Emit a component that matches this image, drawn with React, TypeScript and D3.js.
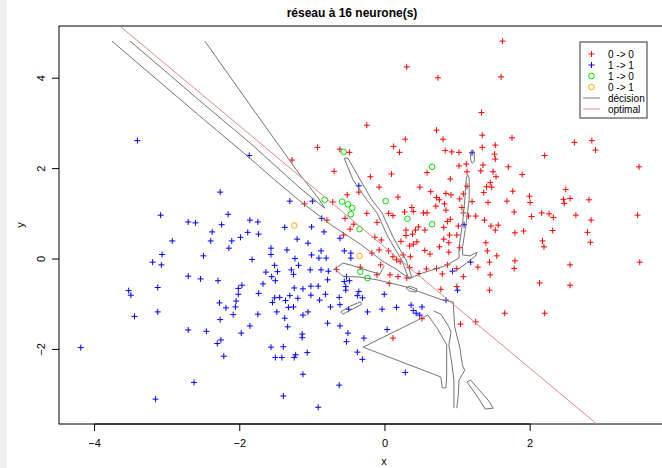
import React from "react";
import * as d3 from "d3";

const WIDTH = 662;
const HEIGHT = 468;

// plot region (pixels) and axis limits (data units)
const frame = { left: 59, top: 26, right: 663, bottom: 424 };
const xLim: [number, number] = [-4.49, 3.83];
const yLim: [number, number] = [-3.65, 5.155];

const xTicks = [-4, -2, 0, 2];
const yTicks = [-2, 0, 2, 4];

const title = "réseau à 16 neurone(s)";
const xLabel = "x";
const yLabel = "y";

type Pt = [number, number];

// class 0 predicted 0
const red00: Pt[] = [
  [1.62, 4.82], [0.3, 4.25], [0.73, 4.01], [1.6, 4.03], [1.33, 3.24], [0.71, 2.85], [0.28, 2.65], [0.8, 2.65], [1.34, 2.74], [1.75, 2.68],
  [0.12, 2.49], [0.2, 2.36], [0.83, 2.4], [0.92, 2.37], [1.02, 2.36], [1.34, 2.47], [1.52, 2.52], [1.51, 2.32], [1.52, 2.21], [1.02, 2.06],
  [1.12, 2.1], [1.7, 2.04], [0.09, 1.88], [0.58, 1.91], [1.13, 1.93], [1.32, 1.95], [1.35, 2.08], [1.53, 1.82], [0.9, 1.77], [0.48, 1.59],
  [0.63, 1.49], [1.13, 1.61], [1.4, 1.6], [1.47, 1.59], [1.45, 1.69], [0.84, 1.45], [0.91, 1.42], [1.08, 1.44], [0.71, 1.36], [0.75, 1.31],
  [0.18, 1.37], [1.03, 1.33], [1.36, 1.47], [1.76, 1.5], [0.82, 1.22], [1.2, 1.27], [1.42, 1.25], [1.68, 1.28], [0.7, 1.17], [0.37, 1.14],
  [0.39, 1.05], [0.27, 1.04], [0.84, 1.08], [0.53, 1.02], [0.58, 1.02], [0.05, 1.01], [0.11, 0.96], [1.08, 1.02], [1.15, 0.95], [1.25, 0.95],
  [1.78, 1.04], [0.9, 0.88], [0.86, 0.83], [1.37, 0.86], [1.56, 0.75],
  [2.61, 2.58], [2.85, 2.62], [2.9, 2.41], [2.2, 2.29], [3.5, 2.04], [1.49, 1.93], [1.89, 1.87], [2.49, 1.54], [1.99, 1.39], [2.0, 1.25],
  [2.46, 1.32], [2.47, 1.23], [2.55, 1.34], [2.81, 1.31], [2.02, 0.94], [2.16, 1.02], [2.26, 1.0], [2.32, 0.92], [2.63, 0.97], [2.84, 0.86],
  [3.48, 0.97], [1.01, 0.73], [0.81, 0.7], [0.42, 0.64], [0.38, 0.55], [0.55, 0.64], [0.89, 0.53], [0.99, 0.53], [0.81, 0.44], [0.88, 0.36],
  [1.46, 0.73], [1.52, 0.64], [1.91, 0.62], [1.79, 0.58], [2.31, 0.63], [2.79, 0.59], [2.83, 0.37], [1.39, 0.36], [2.17, 0.4], [2.19, 0.27],
  [0.34, 0.29], [0.44, 0.38], [0.55, 0.19], [0.62, 0.11], [0.75, 0.27], [0.88, 0.15], [1.03, 0.25], [1.41, 0.18], [1.54, 0.07], [0.35, 0.05],
  [1.44, -0.07], [1.79, -0.04], [1.78, -0.21], [1.28, -0.18], [2.55, -0.13], [3.51, -0.07], [0.57, -0.22], [0.47, -0.32], [0.79, -0.33], [1.45, -0.35],
  [2.13, -0.53], [2.55, -0.58], [0.99, -0.61], [0.77, -0.67], [1.44, -0.69], [1.65, -1.2], [2.2, -1.2], [1.25, -1.39], [1.04, -1.44], [0.51, -1.32],
  [1.06, 1.14],
  [-0.49, 2.36], [-0.7, 1.94], [-0.2, 1.82], [-0.08, 1.59], [-0.52, 1.42], [-0.72, 1.26], [-0.25, 1.01], [-0.43, 0.77], [0.29, 0.64],
  [-0.14, 0.48], [-0.05, 0.42], [-0.08, 0.2], [0.05, 0.18], [0.22, 0.39], [0.29, 0.52], [0.39, 0.33], [-0.67, -0.23], [-0.06, -0.13], [-0.34, -0.18],
  [0.21, -0.06], [0.34, -0.19], [0.71, -0.21], [-0.11, -0.35], [0.06, -0.54], [0.3, -0.42], [0.86, -0.13], [0.99, -0.21], [-0.36, 1.48], [-1.11, 1.22],
  [-0.55, 0.9], [-0.11, 0.81], [0.46, 0.71], [-0.8, 0.86], [-0.48, 0.66], [-0.57, 0.53], [-0.18, 0.13], [0.11, 0.05], [0.16, -0.02], [0.25, 0.09],
  [0.07, -0.35], [0.18, -0.39], [0.11, -1.75], [-0.25, 2.96], [-0.93, 2.47], [-0.62, 2.43], [-1.28, 2.19], [1.08, -0.39],
];

// class 1 predicted 1
const blue11: Pt[] = [
  [-3.41, 2.62], [-1.87, 2.29], [-2.27, 1.48], [-3.09, 0.97], [-2.16, 0.99], [-2.71, 0.82], [-2.61, 0.8], [-1.86, 0.86], [-1.75, 0.82], [-2.25, 0.76],
  [-2.38, 0.6], [-1.89, 0.59], [-1.74, 0.55], [-2.93, 0.4], [-2.4, 0.4], [-2.11, 0.4], [-1.99, 0.48], [-2.15, 0.24], [-3.07, 0.1], [-3.2, -0.07],
  [-3.08, -0.13], [-2.5, 0.07], [-1.83, -0.01], [-2.71, -0.38], [-2.54, -0.44], [-2.3, -0.48], [-1.97, -0.58], [-2.02, -0.65], [-2.02, -0.78], [-1.74, -0.76],
  [-3.53, -0.7], [-3.5, -0.8], [-3.13, -0.63], [-2.28, -0.97], [-2.05, -0.93], [-2.19, -1.08], [-2.06, -1.06], [-2.09, -1.23], [-1.75, -1.22], [-3.45, -1.27],
  [-3.13, -1.17], [-2.27, -1.34], [-1.86, -1.48], [-2.71, -1.57], [-2.46, -1.6], [-1.98, -1.64], [-2.26, -1.79], [-2.31, -1.87], [-2.22, -2.15], [-4.19, -1.96],
  [-2.63, -2.73], [-3.16, -3.1],
  [-1.31, 1.28], [-1.38, 0.7], [-1.01, 0.71], [-0.84, 0.6], [-1.21, 0.44], [-1.06, 0.35], [-0.62, 0.46], [-1.57, 0.24], [-1.35, 0.2], [-1.57, 0.1],
  [-1.24, 0.01], [-1.01, 0.09], [-0.88, 0.18], [-0.91, 0.02], [-0.81, 0.02], [-0.56, 0.18], [-0.47, 0.13], [-0.47, 0.02], [-1.52, -0.14], [-1.64, -0.29],
  [-1.48, -0.28], [-1.29, -0.24], [-1.19, -0.14], [-1.26, -0.34], [-1.03, -0.24], [-0.88, -0.24], [-0.78, -0.27], [-1.56, -0.39], [-1.51, -0.48], [-1.68, -0.55],
  [-0.53, -0.39], [-0.56, -0.5], [-0.49, -0.48], [-0.54, -0.61], [-0.54, -0.69], [-0.79, -0.46], [-1.25, -0.64], [-1.13, -0.66], [-1.02, -0.6], [-0.92, -0.6],
  [-1.52, -0.86], [-1.45, -0.85], [-1.31, -0.81], [-1.55, -0.96], [-1.37, -0.92], [-1.2, -0.87], [-1.02, -0.8], [-0.9, -0.91], [-0.82, -0.78], [-0.63, -0.85],
  [-0.36, -0.72], [-0.38, -0.81], [-0.31, -0.86], [-0.01, -0.78], [-1.49, -1.17], [-1.33, -1.07], [-1.26, -1.06], [-1.13, -1.24], [-1.06, -1.17], [-0.75, -1.06],
  [-0.62, -1.01], [-0.5, -1.11], [-0.24, -1.17], [-0.04, -1.11], [0.16, -1.07], [0.36, -1.02], [0.39, -1.14], [0.43, -1.2], [-1.38, -1.31], [-1.34, -1.5],
  [-0.79, -1.42], [-0.62, -1.48], [-1.14, -1.66], [-1.14, -1.74], [-0.51, -1.64], [-0.53, -1.83], [-0.29, -1.75], [0.03, -1.56], [-1.57, -1.95], [-1.4, -1.94],
  [-1.07, -2.07], [-1.23, -2.12], [-1.25, -2.18], [-1.51, -2.18], [-1.42, -2.18], [-0.38, -2.06], [-0.31, -2.22], [-1.13, -2.55], [0.28, -2.51], [-0.63, -2.79],
  [-1.4, -3.03], [-0.92, -3.28], [-0.36, 1.62], [-1.0, 1.28], [-0.87, 0.9], [1.2, 2.35], [1.09, 0.76], [1.18, -0.07], [0.93, -0.27], [1.0, -0.69],
  [0.84, -0.91], [0.51, -1.06], [0.48, -1.24],
];

// class 1 predicted 0
const green10: Pt[] = [
  [-0.57, 2.37], [0.65, 2.04], [-0.83, 1.31], [-0.59, 1.27], [-0.51, 1.21], [-0.45, 1.13], [-0.47, 0.99],
  [0.01, 1.28], [0.31, 0.89], [0.65, 0.77], [-0.35, 0.66], [-0.34, -0.28], [-0.24, -0.42],
];

// class 0 predicted 1
const orange01: Pt[] = [[-1.25, 0.74], [-0.35, 0.07]];

// Bayes boundary y = a + b x
const optIntercept = 0.26;
const optSlope = -1.34;

// level curves of the network output (0.5 contour)
const decisionOpen: Pt[][] = [
  [
    [-3.76, 4.82], [-2.55, 3.16], [-1.86, 2.23], [-1.52, 1.75], [-1.17, 1.28], [-0.72, 0.73], [-0.34, 0.33], [-0.04, -0.04],
    [0.17, -0.24], [0.34, -0.44], [0.41, -0.38], [0.52, -0.31], [0.83, -0.15], [1.02, 0.02], [1.02, 0.27], [1.07, 0.8],
    [1.1, 1.31], [1.12, 1.79], [1.14, 1.86], [1.16, 1.79], [1.16, 1.31], [1.12, 0.8], [1.07, 0.27], [1.07, 0.09],
    [1.17, 0.07], [1.27, 0.15], [1.25, 0.07], [1.14, -0.07], [1.03, -0.2], [0.92, -0.29],
  ],
  [
    [-3.51, 4.82], [-2.55, 3.5], [-1.86, 2.57], [-1.17, 1.57], [-0.85, 1.15], [-0.83, 1.13], [-0.92, 1.35], [-1.17, 1.86],
    [-1.86, 3.41], [-2.48, 4.82],
  ],
  [
    [-0.01, -0.15], [-0.07, -0.33], [-0.21, -0.27], [-0.34, -0.2], [-0.48, -0.13], [-0.58, -0.09], [-0.69, -0.22], [-0.58, -0.38],
    [-0.34, -0.4], [-0.11, -0.46], [0.07, -0.53], [0.3, -0.62], [0.48, -0.73], [0.8, -0.91], [0.94, -0.95], [0.96, -1.5],
    [1.03, -1.95], [1.07, -2.37], [1.1, -2.46], [1.07, -2.54], [1.02, -2.68], [1.01, -3.01], [0.99, -3.3],
  ],
  [
    [0.67, -1.15], [0.77, -1.22], [0.88, -1.5], [0.91, -1.62], [0.88, -1.9], [0.92, -2.3], [0.95, -2.68], [0.95, -3.3],
  ],
];

const decisionClosed: Pt[][] = [
  [
    [-0.56, 2.23], [-0.44, 1.75], [-0.25, 1.31], [-0.11, 1.02], [0.04, 0.49], [0.23, -0.02], [0.32, -0.4],
    [0.37, -0.4], [0.29, -0.02], [0.11, 0.49], [-0.04, 1.02], [-0.18, 1.31], [-0.34, 1.75], [-0.51, 2.23],
  ],
  [[-0.3, -1.95], [0.59, -1.24], [0.72, -1.53], [0.85, -1.9], [0.85, -2.61], [0.84, -2.85], [0.79, -2.85], [0.77, -2.61]],
  [[1.13, -2.72], [1.25, -2.99], [1.34, -3.21], [1.38, -3.32], [1.49, -3.3], [1.43, -3.14], [1.31, -2.92], [1.18, -2.68]],
  [[0.29, -0.64], [0.34, -0.6], [0.44, -0.66], [0.43, -0.73], [0.34, -0.71]],
  [[-0.61, -1.17], [-0.48, -1.04], [-0.34, -0.95], [-0.32, -1.0], [-0.45, -1.11], [-0.58, -1.22]],
  [[1.18, 2.37], [1.21, 2.41], [1.23, 2.35], [1.23, 2.15], [1.2, 2.12], [1.18, 2.19]],
];

const legendLabels = ["0 -> 0", "1 -> 1", "1 -> 0", "0 -> 1", "décision", "optimal"];
const legendKinds = ["cross", "cross", "circle", "circle", "line", "line"];
const legendColors = ["#ff0000", "#0000ff", "#00dd00", "#ffa500", "#777777", "#d98b8b"];

const FONT = "'Liberation Sans', Arial, Helvetica, sans-serif";
const CROSS = 3;
const RADIUS = 2.8;
const DECISION_COLOR = "#747474";

function crossPath(pts: Pt[], sx: (v: number) => number, sy: (v: number) => number) {
  return pts
    .map(([a, b]) => {
      const cx = sx(a);
      const cy = sy(b);
      return `M${cx - CROSS},${cy}H${cx + CROSS}M${cx},${cy - CROSS}V${cy + CROSS}`;
    })
    .join("");
}

export default function App() {
  const x = d3.scaleLinear().domain(xLim).range([frame.left, frame.right]);
  const y = d3.scaleLinear().domain(yLim).range([frame.bottom, frame.top]);
  const line = d3.line<Pt>().x((d) => x(d[0])).y((d) => y(d[1]));
  const fmt = (v: number) => (v < 0 ? "\u2212" + Math.abs(v) : String(v));

  const optPts: Pt[] = [
    [xLim[0], optIntercept + optSlope * xLim[0]],
    [xLim[1], optIntercept + optSlope * xLim[1]],
  ];

  const legend = { x0: 580, y0: 42, w: 67, h: 76, row: 11, sym: 591.5, txt: 608 };

  return (
    <svg
      width={WIDTH}
      height={HEIGHT}
      style={{ position: "absolute", left: 0, top: 0, display: "block", background: "#ffffff" }}
      fontFamily={FONT}
    >
      <defs>
        <clipPath id="plotClip">
          <rect x={frame.left} y={frame.top} width={frame.right - frame.left} height={frame.bottom - frame.top} />
        </clipPath>
      </defs>
      <rect x={0} y={0} width={WIDTH} height={HEIGHT} fill="#efefef" />
      <rect x={7} y={0} width={WIDTH - 7} height={HEIGHT} fill="#ffffff" />

      <text x={352} y={17} textAnchor="middle" fontSize={12} fontWeight="bold" fill="#000">
        {title}
      </text>

      {/* axes */}
      <g stroke="#000" strokeWidth={1} fill="none">
        <rect x={frame.left} y={frame.top} width={frame.right - frame.left} height={frame.bottom - frame.top} />
        <line x1={x(xTicks[0])} x2={x(xTicks[xTicks.length - 1])} y1={frame.bottom} y2={frame.bottom} />
        {xTicks.map((t) => (
          <line key={t} x1={x(t)} x2={x(t)} y1={frame.bottom} y2={frame.bottom + 7} />
        ))}
        {yTicks.map((t) => (
          <line key={t} x1={frame.left - 7} x2={frame.left} y1={y(t)} y2={y(t)} />
        ))}
      </g>
      <g fontSize={11} fill="#000">
        {xTicks.map((t) => (
          <text key={t} x={x(t)} y={447} textAnchor="middle">
            {fmt(t)}
          </text>
        ))}
        {yTicks.map((t) => (
          <text key={t} transform={`translate(45,${y(t)}) rotate(-90)`} textAnchor="middle">
            {fmt(t)}
          </text>
        ))}
        <text x={384} y={465} textAnchor="middle">
          {xLabel}
        </text>
        <text transform={`translate(24,${(frame.top + frame.bottom) / 2}) rotate(-90)`} textAnchor="middle">
          {yLabel}
        </text>
      </g>

      <g clipPath="url(#plotClip)">
        {/* points */}
        <path d={crossPath(red00, x, y)} stroke="#ff0000" strokeWidth={1} fill="none" />
        <path d={crossPath(blue11, x, y)} stroke="#0000ff" strokeWidth={1} fill="none" />
        {green10.map((p, i) => (
          <circle key={"g" + i} cx={x(p[0])} cy={y(p[1])} r={RADIUS} stroke="#00dd00" strokeWidth={1} fill="none" />
        ))}
        {orange01.map((p, i) => (
          <circle key={"o" + i} cx={x(p[0])} cy={y(p[1])} r={RADIUS} stroke="#ffa500" strokeWidth={1} fill="none" />
        ))}

        {/* network decision boundary */}
        <g stroke={DECISION_COLOR} strokeWidth={1} fill="none" strokeLinejoin="round">
          {decisionOpen.map((pts, i) => (
            <path key={"do" + i} d={line(pts) ?? ""} />
          ))}
          {decisionClosed.map((pts, i) => (
            <path key={"dc" + i} d={(line(pts) ?? "") + "Z"} />
          ))}
        </g>

        {/* optimal boundary */}
        <path d={line(optPts) ?? ""} stroke="#d98b8b" strokeWidth={1} fill="none" />
      </g>

      {/* legend */}
      <g>
        <rect x={legend.x0} y={legend.y0} width={legend.w} height={legend.h} fill="#fff" stroke="#333" strokeWidth={1} />
        {legendLabels.map((lab, i) => {
          const cy = legend.y0 + 12 + i * legend.row;
          const kind = legendKinds[i];
          const col = legendColors[i];
          return (
            <g key={lab}>
              {kind === "cross" && (
                <path
                  d={`M${legend.sym - CROSS},${cy}H${legend.sym + CROSS}M${legend.sym},${cy - CROSS}V${cy + CROSS}`}
                  stroke={col}
                  strokeWidth={1}
                />
              )}
              {kind === "circle" && <circle cx={legend.sym} cy={cy} r={RADIUS} stroke={col} strokeWidth={1} fill="none" />}
              {kind === "line" && <line x1={583} x2={600} y1={cy} y2={cy} stroke={col} strokeWidth={1} />}
              <text x={legend.txt} y={cy} dy="0.35em" fontSize={10} fill="#000">
                {lab}
              </text>
            </g>
          );
        })}
      </g>
    </svg>
  );
}
